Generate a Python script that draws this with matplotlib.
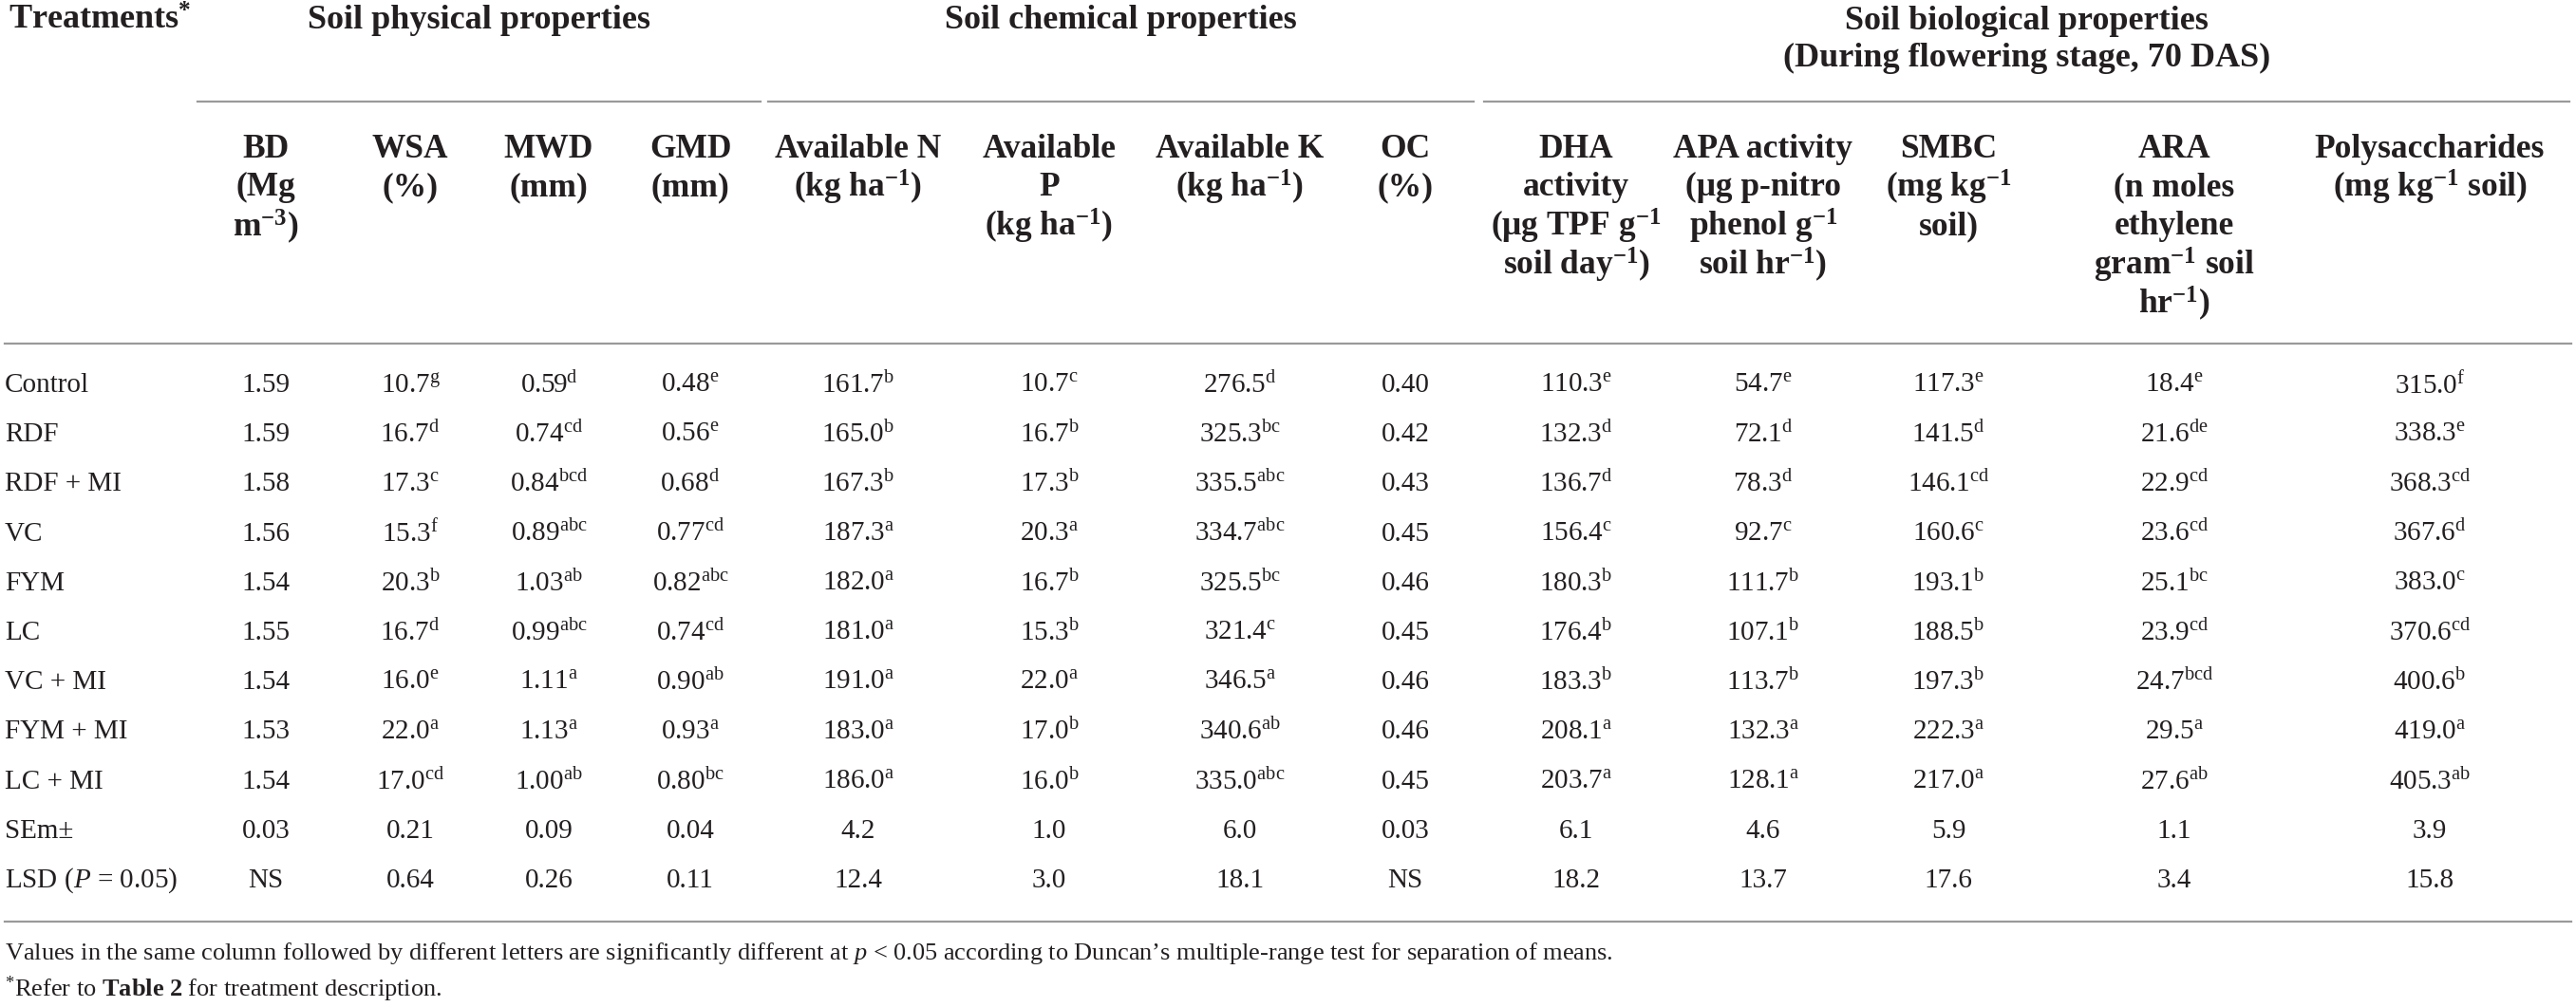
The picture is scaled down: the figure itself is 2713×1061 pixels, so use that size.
import matplotlib
matplotlib.use("Agg")
import matplotlib.pyplot as plt

plt.rcParams["font.family"] = ["Liberation Serif", "DejaVu Serif"]
plt.rcParams["mathtext.fontset"] = "custom"
plt.rcParams["mathtext.rm"] = "Liberation Serif"
plt.rcParams["mathtext.it"] = "Liberation Serif:italic"
plt.rcParams["mathtext.bf"] = "Liberation Serif:bold"
plt.rcParams["mathtext.default"] = "regular"

# ---- data ----
treatments = ["Control", "RDF", "RDF + MI", "VC", "FYM", "LC",
              "VC + MI", "FYM + MI", "LC + MI"]
stat_rows = ["SEm\u00b1", r"LSD ($\mathit{P}$ = 0.05)"]

bd = [1.59, 1.59, 1.58, 1.56, 1.54, 1.55, 1.54, 1.53, 1.54]
bd_let = [""] * 9
wsa = [10.7, 16.7, 17.3, 15.3, 20.3, 16.7, 16.0, 22.0, 17.0]
wsa_let = ["g", "d", "c", "f", "b", "d", "e", "a", "cd"]
mwd = [0.59, 0.74, 0.84, 0.89, 1.03, 0.99, 1.11, 1.13, 1.00]
mwd_let = ["d", "cd", "bcd", "abc", "ab", "abc", "a", "a", "ab"]
gmd = [0.48, 0.56, 0.68, 0.77, 0.82, 0.74, 0.90, 0.93, 0.80]
gmd_let = ["e", "e", "d", "cd", "abc", "cd", "ab", "a", "bc"]
avail_n = [161.7, 165.0, 167.3, 187.3, 182.0, 181.0, 191.0, 183.0, 186.0]
avail_n_let = ["b", "b", "b", "a", "a", "a", "a", "a", "a"]
avail_p = [10.7, 16.7, 17.3, 20.3, 16.7, 15.3, 22.0, 17.0, 16.0]
avail_p_let = ["c", "b", "b", "a", "b", "b", "a", "b", "b"]
avail_k = [276.5, 325.3, 335.5, 334.7, 325.5, 321.4, 346.5, 340.6, 335.0]
avail_k_let = ["d", "bc", "abc", "abc", "bc", "c", "a", "ab", "abc"]
oc = [0.40, 0.42, 0.43, 0.45, 0.46, 0.45, 0.46, 0.46, 0.45]
oc_let = [""] * 9
dha = [110.3, 132.3, 136.7, 156.4, 180.3, 176.4, 183.3, 208.1, 203.7]
dha_let = ["e", "d", "d", "c", "b", "b", "b", "a", "a"]
apa = [54.7, 72.1, 78.3, 92.7, 111.7, 107.1, 113.7, 132.3, 128.1]
apa_let = ["e", "d", "d", "c", "b", "b", "b", "a", "a"]
smbc = [117.3, 141.5, 146.1, 160.6, 193.1, 188.5, 197.3, 222.3, 217.0]
smbc_let = ["e", "d", "cd", "c", "b", "b", "b", "a", "a"]
ara = [18.4, 21.6, 22.9, 23.6, 25.1, 23.9, 24.7, 29.5, 27.6]
ara_let = ["e", "de", "cd", "cd", "bc", "cd", "bcd", "a", "ab"]
poly = [315.0, 338.3, 368.3, 367.6, 383.0, 370.6, 400.6, 419.0, 405.3]
poly_let = ["f", "e", "cd", "d", "c", "cd", "b", "a", "ab"]

sem = ["0.03", "0.21", "0.09", "0.04", "4.2", "1.0", "6.0", "0.03",
       "6.1", "4.6", "5.9", "1.1", "3.9"]
lsd = ["NS", "0.64", "0.26", "0.11", "12.4", "3.0", "18.1", "NS",
       "18.2", "13.7", "17.6", "3.4", "15.8"]

headers = [
    ["BD", "(Mg", r"m$^{-3}$)"],
    ["WSA", "(%)"],
    ["MWD", "(mm)"],
    ["GMD", "(mm)"],
    ["Available N", r"(kg ha$^{-1}$)"],
    ["Available", "P", r"(kg ha$^{-1}$)"],
    ["Available K", r"(kg ha$^{-1}$)"],
    ["OC", "(%)"],
    ["DHA", "activity", "(\u03bcg TPF g$^{-1}$", r"soil day$^{-1}$)"],
    ["APA activity", "(\u03bcg p-nitro", r"phenol g$^{-1}$", r"soil hr$^{-1}$)"],
    ["SMBC", r"(mg kg$^{-1}$", "soil)"],
    ["ARA", "(n moles", "ethylene", r"gram$^{-1}$ soil", r"hr$^{-1}$)"],
    ["Polysaccharides", r"(mg kg$^{-1}$ soil)"],
]
columns = [(bd, bd_let, 2), (wsa, wsa_let, 1), (mwd, mwd_let, 2),
           (gmd, gmd_let, 2), (avail_n, avail_n_let, 1),
           (avail_p, avail_p_let, 1), (avail_k, avail_k_let, 1),
           (oc, oc_let, 2), (dha, dha_let, 1), (apa, apa_let, 1),
           (smbc, smbc_let, 1), (ara, ara_let, 1), (poly, poly_let, 1)]

groups = ["Soil physical properties",
          "Soil chemical properties",
          "Soil biological properties\n(During flowering stage, 70 DAS)"]

# ---- layout (pixels) ----
W, H = 2713, 1061
col_x = [280, 432, 578, 727, 904, 1105, 1306, 1480, 1660, 1857, 2052, 2290, 2559]
group_span = [(208, 801), (809, 1552), (1563, 2706)]
txt = "#231f20"
rule = "#9a9a9a"

fig = plt.figure(figsize=(W / 100, H / 100), dpi=100)
ax = fig.add_axes([0, 0, 1, 1])
ax.set_xlim(0, W)
ax.set_ylim(H, 0)
ax.axis("off")

# group headers
ax.text(9, 22, r"Treatments$^{*}$", fontsize=26, fontweight="bold",
        color=txt, ha="left", va="center")
for label, (x0, x1) in zip(groups, group_span):
    ax.text((x0 + x1) / 2, 42 if "\n" in label else 22, label, fontsize=26,
            fontweight="bold", color=txt, ha="center", va="center",
            linespacing=1.2)
    ax.plot([x0, x1], [107, 107], color=rule, lw=1.6)

# column headers
for x, lines in zip(col_x, headers):
    for i, line in enumerate(lines):
        ax.text(x, 157 + i * 40.7, line, fontsize=25.5, fontweight="bold",
                color=txt, ha="center", va="center")

ax.plot([5, 2708], [362, 362], color=rule, lw=1.6)

# body
row_y0, row_dy = 406, 52.2
for r, name in enumerate(treatments + stat_rows):
    ax.text(5, row_y0 + r * row_dy, name, fontsize=21, color=txt,
            ha="left", va="center")

for c, (vals, lets, dec) in enumerate(columns):
    x = col_x[c]
    for r, (v, l) in enumerate(zip(vals, lets)):
        s = f"{v:.{dec}f}" + (f"$^{{{l}}}$" if l else "")
        ax.text(x, row_y0 + r * row_dy, s, fontsize=21, color=txt,
                ha="center", va="center")
    for k, s in enumerate([sem[c], lsd[c]]):
        ax.text(x, row_y0 + (9 + k) * row_dy, s, fontsize=21, color=txt,
                ha="center", va="center")

ax.plot([5, 2708], [971, 971], color=rule, lw=1.6)

# footnotes
ax.text(5, 1005, "Values in the same column followed by different letters are "
        "significantly different at $\\mathit{p}$ < 0.05 according to "
        "Duncan\u2019s multiple-range test for separation of means.",
        fontsize=19, color=txt, ha="left", va="center")
ax.text(5, 1042, r"$^{*}$Refer to $\mathbf{Table\ 2}$ for treatment description.",
        fontsize=19, color=txt, ha="left", va="center")

fig.savefig("out.png", dpi=100, facecolor="white")
